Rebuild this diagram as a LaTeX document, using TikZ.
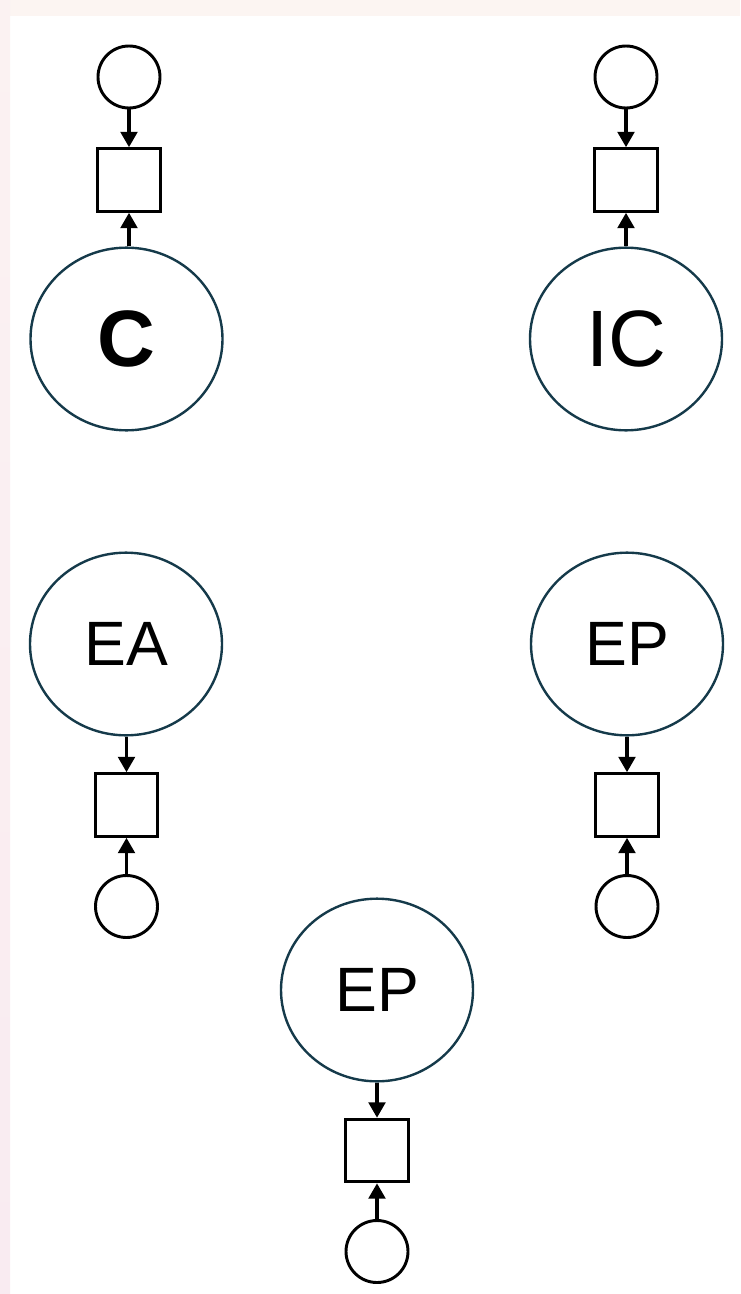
\documentclass[tikz,border=0pt]{standalone}
\usepackage{fontspec}
\setmainfont{Liberation Sans}
\usetikzlibrary{arrows.meta,shapes.geometric}
\definecolor{elline}{HTML}{153A4A}
\definecolor{topstrip}{HTML}{FCF5F2}
\definecolor{lefttop}{HTML}{FBF2F2}
\definecolor{leftbot}{HTML}{F9EBF1}
\tikzset{
  bigel/.style={ellipse, draw=elline, line width=1.8pt, fill=white, minimum width=144pt, minimum height=137pt, inner sep=0pt},
  bigtxt/.style={font=\fontsize{60pt}{60pt}\selectfont},
  midtxt/.style={font=\fontsize{47pt}{47pt}\selectfont},
  place/.style={circle, draw=black, line width=2.2pt, fill=white, minimum size=46.5pt, inner sep=0pt},
  trans/.style={rectangle, draw=black, line width=2.2pt, fill=white, minimum size=47pt, inner sep=0pt},
  arr/.style={-{Triangle[length=11.5pt,width=12.5pt]}, line width=2.4pt, draw=black},
}
\begin{document}
\begin{tikzpicture}[x=0.75pt,y=-0.75pt]
\useasboundingbox (0,0) rectangle (740,1294);
\fill[white] (0,0) rectangle (740,1294);
\fill[topstrip] (0,0) rectangle (740,16.5);
\shade[top color=lefttop, bottom color=leftbot] (0,0) rectangle (10,1294);

% top left
\node[place] (c1) at (129,77) {};
\node[trans] (s1) at (129,180) {};
\node[bigel, bigtxt] (e1) at (126.5,339) {\textbf{C}};
% top right
\node[place] (c2) at (626,77) {};
\node[trans] (s2) at (626,180) {};
\node[bigel, bigtxt] (e2) at (626,339) {IC};
% middle left
\node[bigel, midtxt] (e3) at (126,644) {EA};
\node[trans] (s3) at (126.5,805) {};
\node[place] (c3) at (126.5,906.5) {};
% middle right
\node[bigel, midtxt] (e4) at (627,644) {EP};
\node[trans] (s4) at (627,805) {};
\node[place] (c4) at (627,906.5) {};
% bottom
\node[bigel, midtxt] (e5) at (377,990) {EP};
\node[trans] (s5) at (377,1150.5) {};
\node[place] (c5) at (377,1251.5) {};

\draw[arr] (c1) -- (s1);
\draw[arr] (e1.north -| s1.south) -- (s1.south);
\draw[arr] (c2) -- (s2);
\draw[arr] (e2.north -| s2.south) -- (s2.south);
\draw[arr] (e3.south -| s3.north) -- (s3.north);
\draw[arr] (c3) -- (s3);
\draw[arr] (e4) -- (s4);
\draw[arr] (c4) -- (s4);
\draw[arr] (e5) -- (s5);
\draw[arr] (c5) -- (s5);
\end{tikzpicture}
\end{document}
